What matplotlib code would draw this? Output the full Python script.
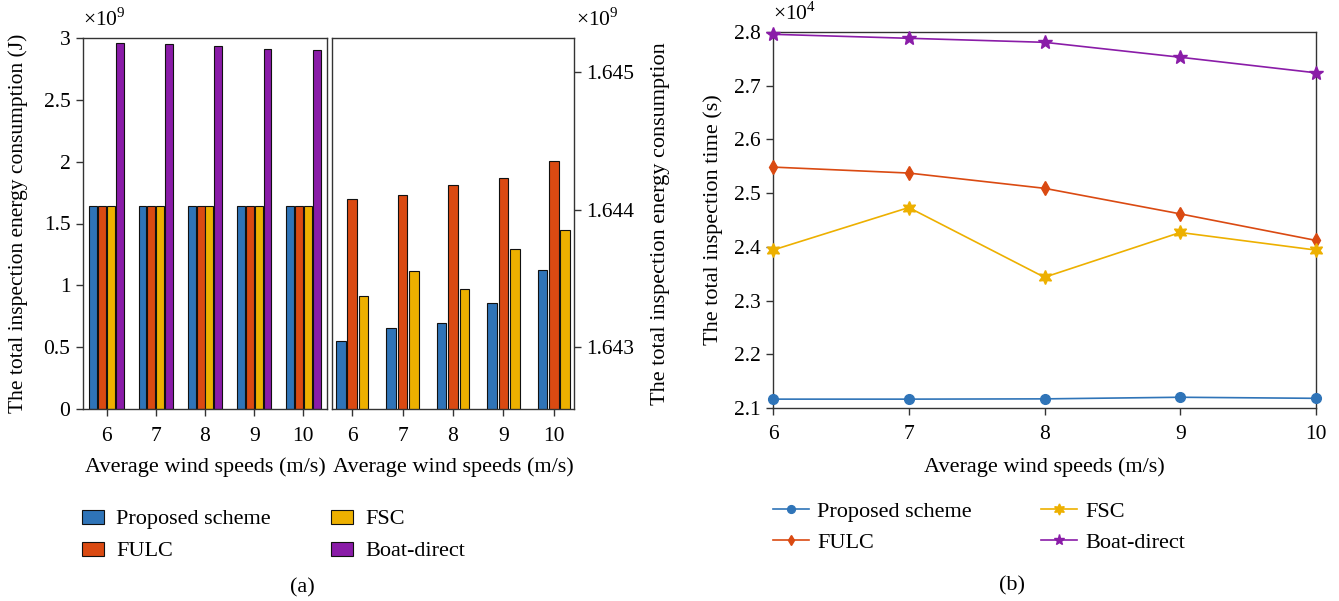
import numpy as np
import matplotlib
matplotlib.use("Agg")
import matplotlib.pyplot as plt
from matplotlib.patches import Patch
from matplotlib.lines import Line2D

plt.rcParams['font.family'] = ['Liberation Serif', 'DejaVu Serif']
plt.rcParams['mathtext.fontset'] = 'custom'
plt.rcParams['mathtext.rm'] = 'Liberation Serif'

wind = [6, 7, 8, 9, 10]
series = ["Proposed scheme", "FULC", "FSC", "Boat-direct"]
colors = ["#2F74B8", "#DA4A12", "#EDB000", "#8A1CA8"]

# energy consumption (x1e9 J)
energy_proposed = [1.643043, 1.643140, 1.643178, 1.643323, 1.643562]
energy_fulc = [1.644078, 1.644104, 1.644181, 1.644230, 1.644350]
energy_fsc = [1.643374, 1.643555, 1.643423, 1.643712, 1.643850]
energy_boat = [2.957, 2.949, 2.933, 2.909, 2.901]

# inspection time (x1e4 s)
time_proposed = [2.1165, 2.1165, 2.117, 2.120, 2.118]
time_fulc = [2.5485, 2.5374, 2.509, 2.4614, 2.412]
time_fsc = [2.3941, 2.4732, 2.3434, 2.4268, 2.394]
time_boat = [2.7957, 2.7883, 2.7808, 2.753, 2.724]

W, H = 1339, 601
fig = plt.figure(figsize=(W / 100, H / 100), dpi=100)

def ax_rect(x0, y0, x1, y1):
    return [x0 / W, 1 - y1 / H, (x1 - x0) / W, (y1 - y0) / H]

FS = 15.5
LFS = 16
spine_c = "#333333"

def style(ax):
    for s in ax.spines.values():
        s.set_color(spine_c)
        s.set_linewidth(1.0)
    ax.tick_params(direction='out', length=5, width=1.0, color=spine_c, labelsize=FS, pad=4)

# ---- left panel
ax1 = fig.add_axes(ax_rect(83, 38, 327, 409))
x = np.array(wind, dtype=float)
pitch1, w1 = 0.18, 0.16
e_all = [energy_proposed, energy_fulc, energy_fsc, energy_boat]
for i, (vals, c) in enumerate(zip(e_all, colors)):
    ax1.bar(x + (i - 1.5) * pitch1, vals, width=w1, color=c, edgecolor="#111111", linewidth=0.8)
ax1.set_xlim(5.52, 10.48)
ax1.set_ylim(0, 3)
ax1.set_yticks([0, 0.5, 1, 1.5, 2, 2.5, 3])
ax1.set_yticklabels(["0", "0.5", "1", "1.5", "2", "2.5", "3"])
ax1.set_xticks(wind)
ax1.set_xticklabels([str(v) for v in wind])
style(ax1)
ax1.tick_params(axis='x', pad=8)
ax1.set_ylabel("The total inspection energy consumption (J)", fontsize=15.5, labelpad=11)
ax1.set_xlabel("Average wind speeds (m/s)", fontsize=LFS, labelpad=8)
ax1.text(0.0, 1.02, r"$\times$10$^{9}$", transform=ax1.transAxes, fontsize=FS, ha='left', va='bottom')

# ---- middle panel
ax2 = fig.add_axes(ax_rect(332, 38, 574, 409))
pitch2, w2 = 0.225, 0.19
for i, (vals, c) in enumerate(zip(e_all[:3], colors[:3])):
    ax2.bar(x + (i - 1) * pitch2, vals, width=w2, color=c, edgecolor="#111111", linewidth=0.8)
ax2.set_xlim(5.6, 10.4)
ax2.set_ylim(1.642553, 1.645244)
ax2.set_yticks([1.643, 1.644, 1.645])
ax2.set_yticklabels(["1.643", "1.644", "1.645"])
ax2.yaxis.tick_right()
ax2.yaxis.set_label_position("right")
ax2.set_xticks(wind)
ax2.set_xticklabels([str(v) for v in wind])
style(ax2)
ax2.tick_params(axis='x', pad=8)
ax2.set_ylabel("The total inspection energy consumption", fontsize=LFS, labelpad=12)
ax2.set_xlabel("Average wind speeds (m/s)", fontsize=LFS, labelpad=8)
ax2.text(1.01, 1.02, r"$\times$10$^{9}$", transform=ax2.transAxes, fontsize=FS, ha='left', va='bottom')

# ---- right panel
ax3 = fig.add_axes(ax_rect(773, 32, 1316, 408))
hexa = (6, 1, 0)
t_all = [time_proposed, time_fulc, time_fsc, time_boat]
markers = ['o', 'd', hexa, '*']
msizes = [7, 7, 10, 10]
for vals, c, m, ms, lab in zip(t_all, colors, markers, msizes, series):
    ax3.plot(wind, vals, color=c, marker=m, markersize=ms, linewidth=1.2, label=lab, clip_on=False, zorder=3)
ax3.set_xlim(6, 10)
ax3.set_ylim(2.1, 2.8)
ax3.set_yticks([2.1, 2.2, 2.3, 2.4, 2.5, 2.6, 2.7, 2.8])
ax3.set_xticks(wind)
style(ax3)
ax3.tick_params(axis='x', pad=7)
ax3.set_ylabel("The total inspection time (s)", fontsize=LFS, labelpad=8)
ax3.set_xlabel("Average wind speeds (m/s)", fontsize=LFS, labelpad=10)
ax3.text(0.0, 1.02, r"$\times$10$^{4}$", transform=ax3.transAxes, fontsize=FS, ha='left', va='bottom')

# ---- legends
handles_a = [Patch(facecolor=c, edgecolor="#111111", linewidth=0.8, label=s) for c, s in zip(colors, series)]
leg1 = fig.legend(handles=handles_a, loc='center left', bbox_to_anchor=(82 / W, 1 - 535.5 / H),
                  ncol=2, frameon=False, fontsize=LFS, handlelength=1.0, handleheight=0.6,
                  columnspacing=2.7, labelspacing=0.55, handletextpad=0.55,
                  borderpad=0, borderaxespad=0)

handles_b = [Line2D([0], [0], color=c, marker=m, markersize=ms * 0.8, linewidth=1.2, label=s)
             for c, m, ms, s in zip(colors, markers, msizes, series)]
leg2 = fig.legend(handles=handles_b, loc='center left', bbox_to_anchor=(773 / W, 1 - 527 / H),
                  ncol=2, frameon=False, fontsize=LFS, handlelength=1.6,
                  columnspacing=3.1, labelspacing=0.45, handletextpad=0.4,
                  borderpad=0, borderaxespad=0)

fig.text(302 / W, 1 - 588 / H, "(a)", ha='center', va='center', fontsize=LFS)
fig.text(1012 / W, 1 - 586 / H, "(b)", ha='center', va='center', fontsize=LFS)

fig.savefig("out.png", dpi=100)
